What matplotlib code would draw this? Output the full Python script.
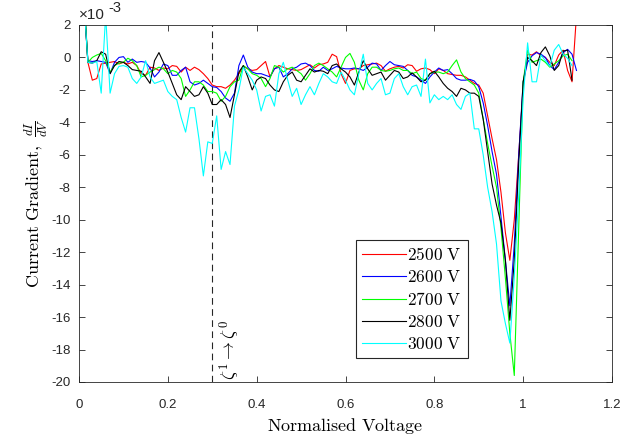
import numpy as np
import matplotlib
matplotlib.use("Agg")
import matplotlib.pyplot as plt

plt.rcParams['mathtext.fontset'] = 'cm'
plt.rcParams['font.family'] = ['Liberation Sans', 'DejaVu Sans']

# sampling grid (normalised voltage)
x = np.linspace(0.01, 1.12, 112)
nan = np.nan

# current gradient values, in units of 1e-3
v2500 = [4.0, -0.3, -1.4, -1.3, -0.4, -0.35, -0.3, -0.25, -0.4, -0.3,
         -0.4, -0.3, -0.5, -1.0, -1.1, -0.6, -0.65, -0.8, -0.65, -0.7,
         -0.5, -0.55, -0.9, -0.6, -0.8, -0.6, -0.75, -1.0, -1.3, -1.7,
         -1.8, -1.8, -1.9, -1.7, -1.4, -1.0, -0.55, -0.7, -0.8, -0.75,
         -0.5, -0.25, -1.2, -0.7, -0.5, -0.6, -0.7, -0.75, -0.8, -0.75,
         -0.6, -0.45, -0.65, -0.45, -0.4, -0.3, 0.2, 0.05, -1.0, -1.6,
         -0.8, -0.7, -0.7, -0.5, -0.45, -0.4, -0.35, -0.5, -0.85, -0.7,
         -0.6, -0.55, -0.65, -0.45, -0.5, -0.85, -0.7, -0.65, -0.75, -1.0,
         -0.7, -0.8, -1.0, -1.05, -1.1, -1.1, -1.2, -1.4, -1.6, -1.7,
         -2.2, -3.6, -5.0, -6.3, -8.3, -10.8, -12.5, -10.0, -6.0, -1.8,
         0.2, 0.15, 0.35, 0.1, 0.0, -0.3, -0.5, 0.15, 0.45, -0.8,
         -1.5, 2.6]

v2600 = [4.0, -0.2, -0.25, -0.2, -0.25, -0.3, -1.0, -0.3, 0.0, 0.05,
         -0.3, -0.1, -0.3, -0.25, -0.3, -0.65, -1.2, -0.9, -0.4, -0.5,
         -1.1, -1.1, -0.8, -0.6, -1.5, -1.7, -1.6, -1.4, -1.6, -1.8,
         -1.85, -2.1, -2.5, -2.7, -2.2, -0.5, 0.15, -0.6, -0.9, -1.0,
         -1.0, -1.1, -1.2, -0.7, -0.6, -1.2, -1.0, -0.7, -0.6, -0.4,
         -0.35, -0.5, -0.8, -0.85, -0.6, -0.8, -0.7, -0.55, -0.65, -0.7,
         -0.7, -0.65, -0.7, -0.8, -0.6, -0.35, -0.4, -0.8, -0.5, -0.25,
         -0.45, -0.5, -0.55, -0.8, -1.1, -1.2, -1.4, -1.6, -1.2, -0.9,
         -0.65, -0.8, -0.75, -1.0, -1.3, -1.4, -1.4, -1.35, -1.45, -1.8,
         -2.8, -4.2, -5.8, -7.2, -9.8, -12.5, -15.3, -11.5, -6.0, -1.5,
         -0.3, 0.1, 0.3, 0.2, 0.0, -0.5, -0.75, -0.3, 0.3, 0.5,
         0.2, -0.8]

v2700 = [4.5, -0.3, 0.0, 0.15, 0.25, -0.2, -0.9, -0.5, -0.35, -0.3,
         -0.05, -0.2, -0.5, -1.2, -1.1, -0.9, -0.75, -0.6, -0.7, -1.0,
         -0.8, -0.9, -1.3, -2.4, -2.0, -1.5, -1.5, -1.7, -2.1, -2.1,
         -2.2, -2.7, -2.4, -1.8, -1.5, -1.4, -0.5, -0.7, -1.0, -1.1,
         -1.3, -1.8, -1.3, -0.5, -0.6, -0.9, -0.7, -0.6, -0.8, -1.0,
         -1.4, -1.0, -0.5, -0.35, -0.5, -0.7, -0.9, -1.2, -0.6, 0.0,
         0.25, -0.3, -1.4, -2.0, -1.0, -0.6, -0.6, -0.8, -0.85, -0.8,
         -0.7, -0.65, -0.8, -0.8, -1.0, -0.9, -1.3, -1.4, -1.0, -0.9,
         -0.9, -1.0, -0.9, -0.5, -0.15, -0.9, -1.3, -1.5, -1.7, -2.2,
         -3.8, -5.3, -6.7, -8.0, -10.5, -13.6, -17.0, -19.6, -10.5, -1.5,
         0.45, -0.3, -0.2, -0.1, -0.3, -0.6, -0.4, -0.2, 0.1, 0.2,
         -0.2, nan]

v2800 = [4.0, -0.3, -0.35, -0.2, 0.35, 0.2, -1.0, -0.5, -0.25, -0.3,
         -0.5, -0.75, -0.8, -0.85, -1.2, -1.6, -0.2, 0.3, -0.3, -0.9,
         -1.6, -2.3, -2.6, -1.8, -2.1, -2.4, -2.3, -1.8, -2.2, -2.9,
         -2.9, -2.6, -2.9, -3.7, -2.3, -0.9, -0.5, -1.2, -2.0, -1.4,
         -1.2, -1.3, -1.7, -2.0, -2.1, -1.5, -1.1, -0.9, -1.4, -1.5,
         -1.1, -0.7, -0.9, -0.8, -0.85, -1.0, -0.5, -0.4, -0.7, -0.9,
         -1.2, -1.7, -0.9, -0.2, -0.7, -1.1, -1.0, -0.9, -1.4, -1.1,
         -0.8, -0.9, -1.3, -1.2, -0.95, -1.2, -1.5, -1.4, -1.0, -0.85,
         -1.2, -1.6, -1.9, -2.1, -2.4, -1.9, -2.0, -2.2, -2.2, -2.4,
         -3.8, -5.8, -7.8, -9.1, -10.2, -12.5, -16.2, -12.5, -6.5, -1.5,
         0.0, -0.2, -0.5, 0.3, 0.65, 0.1, -0.8, -0.5, 0.4, 0.45,
         -1.4, nan]

v3000 = [4.0, -0.3, -0.35, -0.25, -2.2, 2.6, -2.2, -1.0, -0.55, -0.5,
         -0.6, -1.3, -1.6, -1.2, -0.2, -1.2, -1.6, -1.5, -1.4, -2.1,
         -2.4, -2.6, -3.7, -4.6, -3.1, -3.1, -5.0, -7.3, -5.2, -5.3,
         -3.6, -6.9, -5.8, -6.6, -3.0, -2.0, -0.6, -1.0, -1.4, -2.0,
         -3.3, -2.4, -2.3, -3.0, -1.0, -0.3, -1.4, -2.4, -1.9, -2.9,
         -2.3, -1.8, -2.3, -1.6, -1.0, -1.2, -1.5, -1.6, -0.9, -1.4,
         -2.0, -2.3, -1.0, 0.2, -1.6, -2.0, -1.6, -1.3, -2.3, -2.2,
         -1.3, -1.0, -1.8, -2.3, -1.8, -1.7, -2.4, -0.1, -2.8, -2.3,
         -2.6, -2.4, -2.6, -2.3, -2.9, -3.2, -2.4, -2.2, -4.4, -4.4,
         -6.0, -8.0, -9.5, -11.5, -15.0, -16.4, -17.6, -13.5, -8.5, -2.5,
         0.9, -1.5, -1.5, 0.15, -0.2, -0.55, 0.45, 0.8, 0.2, -0.05,
         -0.5, nan]

series_labels = ['2500 V', '2600 V', '2700 V', '2800 V', '3000 V']
series_values = [v2500, v2600, v2700, v2800, v3000]
series_colors = ['#ff0000', '#0000ff', '#00ff00', '#000000', '#00ffff']

xtick_vals = [0, 0.2, 0.4, 0.6, 0.8, 1.0, 1.2]
xtick_labels = ['0', '0.2', '0.4', '0.6', '0.8', '1', '1.2']
ytick_vals = [2, 0, -2, -4, -6, -8, -10, -12, -14, -16, -18, -20]
ytick_labels = ['2', '0', '-2', '-4', '-6', '-8', '-10', '-12', '-14', '-16', '-18', '-20']
marker_x = 0.3

fig = plt.figure(figsize=(6.33, 4.37), dpi=100)
ax = fig.add_axes([79/633, 55/437, 533/633, 357/437])

for vals, lab, col in zip(series_values, series_labels, series_colors):
    ax.plot(x, np.array(vals) * 1e-3, color=col, lw=0.8,
            label=r'$\mathrm{' + lab.replace(' ', r'\ ') + '}$')

ax.axvline(marker_x, color='#262626', lw=0.8, linestyle=(0, (6, 4)), zorder=1)
ax.text(0.311, -19.85e-3, r'$\zeta^1\rightarrow\zeta^0$', rotation=90,
        ha='left', va='bottom', fontsize=13)

ax.set_xlim(0, 1.2)
ax.set_ylim(-20e-3, 2e-3)
ax.set_xticks(xtick_vals)
ax.set_xticklabels(xtick_labels)
ax.set_yticks([v * 1e-3 for v in ytick_vals])
ax.set_yticklabels(ytick_labels)
ax.tick_params(direction='in', top=True, right=True, length=4, width=0.6,
               colors='#262626', labelsize=9.5, labelcolor='#262626')
ax.tick_params(axis='x', pad=12)
ax.tick_params(axis='y', pad=6)
for sp in ax.spines.values():
    sp.set_color('#262626')
    sp.set_linewidth(0.6)

ax.text(0.0, 1.008, '×10', transform=ax.transAxes, ha='left', va='bottom',
        fontsize=11, color='#262626')
ax.annotate('-3', xy=(0.0, 1.008), xycoords='axes fraction', xytext=(21, 5),
            textcoords='offset points', ha='left', va='bottom', fontsize=10.5,
            color='#262626')

ax.set_xlabel(r'$\mathrm{Normalised\ Voltage}$', fontsize=13, labelpad=4)
ax.set_ylabel(r'$\mathrm{Current\ Gradient,}\ \frac{dI}{dV}$', fontsize=13, labelpad=1)

leg = ax.legend(loc='lower left', bbox_to_anchor=(0.52, 0.067), borderaxespad=0,
                fontsize=12.5, handlelength=2.5, fancybox=False, framealpha=1,
                edgecolor='#262626', labelspacing=0.35, handletextpad=0.1,
                borderpad=0.35)
leg.get_frame().set_linewidth(0.8)

fig.savefig('out.png', dpi=100)
